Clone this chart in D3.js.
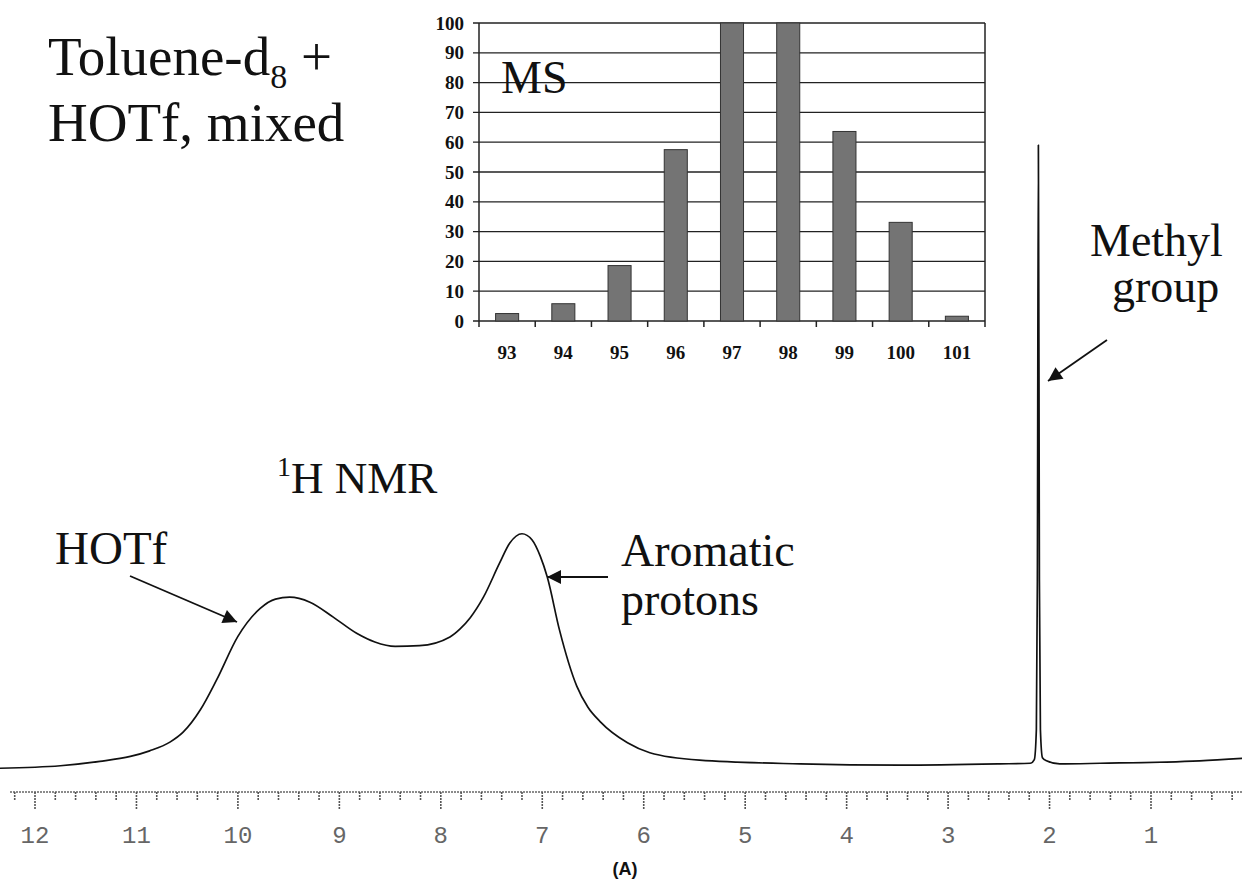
<!DOCTYPE html>
<html>
<head>
<meta charset="utf-8">
<script src="https://cdn.jsdelivr.net/npm/d3@7"></script>
<style>
  body { margin: 0; background: #fff; }
  svg { display: block; }
</style>
</head>
<body>
<script>
// ---- data ----
// MS inset: mass numbers and relative abundance (%)
var msMass = ["93", "94", "95", "96", "97", "98", "99", "100", "101"];
var msAbund = [2.5, 5.8, 18.6, 57.5, 100, 100, 63.6, 33.1, 1.6];
var msTicks = [0, 10, 20, 30, 40, 50, 60, 70, 80, 90, 100];

// 1H NMR trace: chemical shift (ppm) and intensity (arbitrary, methyl top = 100)
var nmrPpm = [12.35, 11.75, 11.36, 11.06, 10.87, 10.67, 10.54, 10.37, 10.21, 10.0,
              9.78, 9.63, 9.49, 9.29, 9.06, 8.83, 8.65, 8.45, 8.21, 7.91,
              7.81, 7.71, 7.58, 7.42, 7.32, 7.20, 7.10, 7.02, 6.95, 6.83,
              6.66, 6.55, 6.43, 6.16, 5.94, 5.45, 4.46, 3.47, 2.49, 2.19,
              2.15, 2.13, 2.12, 2.11, 2.10, 2.09, 2.07, 2.03, 1.90, 1.50,
              0.52, 0.10];
var nmrInt = [-0.2, 0.2, 0.9, 1.7, 2.6, 4.0, 5.6, 9.2, 14.0, 21.0,
              25.5, 27.0, 27.3, 26.5, 24.1, 21.5, 20.1, 19.4, 19.5, 20.9,
              22.2, 24.0, 27.3, 32.8, 36.0, 37.5, 36.5, 33.9, 30.5, 22.0,
              13.0, 9.6, 7.3, 3.9, 2.3, 1.1, 0.5, 0.3, 0.5, 0.6,
              1.2, 6, 30, 100, 30, 6, 1.5, 1.0, 0.5, 0.6,
              1.0, 1.4];
var ppmMajor = [12, 11, 10, 9, 8, 7, 6, 5, 4, 3, 2, 1];

var W = 1242, H = 882;
var serif = "'Liberation Serif', 'Times New Roman', serif";

var svg = d3.select("body").append("svg")
    .attr("width", W)
    .attr("height", H);

svg.append("defs").append("marker")
    .attr("id", "head")
    .attr("viewBox", "0 0 10 10")
    .attr("refX", 10).attr("refY", 5)
    .attr("markerUnits", "userSpaceOnUse")
    .attr("markerWidth", 20).attr("markerHeight", 14)
    .attr("orient", "auto")
  .append("path")
    .attr("d", "M0,0 L10,5 L0,10 Z")
    .attr("fill", "#111");

// ---- NMR spectrum ----
var x = d3.scaleLinear().domain([12, 1]).range([35, 1151]);
var y = d3.scaleLinear().domain([0, 100]).range([767, 145]);

var nmr = nmrPpm.map(function(p, i) { return [p, nmrInt[i]]; });

svg.append("path")
    .datum(nmr)
    .attr("fill", "none")
    .attr("stroke", "#111")
    .attr("stroke-width", 1.7)
    .attr("stroke-linejoin", "round")
    .attr("d", d3.line()
        .x(function(d) { return x(d[0]); })
        .y(function(d) { return y(d[1]); })
        .curve(d3.curveMonotoneX));

// ppm ruler at the bottom
var ruler = svg.append("g").attr("transform", "translate(0,792)");
ruler.append("line")
    .attr("x1", 10).attr("x2", W)
    .attr("stroke", "#666").attr("stroke-width", 1.5)
    .attr("stroke-dasharray", "2,1");

var minor = d3.range(0, 61).map(function(i) { return 12.2 - i * 0.2; })
    .filter(function(p) { return x(p) >= 10 && x(p) <= W; });
ruler.selectAll(".minor").data(minor).enter().append("line")
    .attr("class", "minor")
    .attr("x1", function(d) { return x(d); })
    .attr("x2", function(d) { return x(d); })
    .attr("y1", 0)
    .attr("y2", function(d) { return Math.abs(d - Math.round(d)) < 0.01 ? 18 : 9; })
    .attr("stroke", "#555").attr("stroke-width", 1.6)
    .attr("stroke-dasharray", "2,1");

ruler.selectAll(".lab").data(ppmMajor).enter().append("text")
    .attr("x", function(d) { return x(d); })
    .attr("y", 51)
    .attr("text-anchor", "middle")
    .attr("font-family", "'Liberation Mono', 'Courier New', monospace")
    .attr("font-size", 24)
    .attr("fill", "#666")
    .text(function(d) { return d; });

svg.append("text")
    .attr("x", 625).attr("y", 875)
    .attr("text-anchor", "middle")
    .attr("font-family", "'Liberation Sans', Arial, sans-serif")
    .attr("font-weight", "bold")
    .attr("font-size", 18)
    .attr("fill", "#111")
    .text("(A)");

// ---- MS inset ----
var xb = d3.scaleBand().domain(msMass).range([479, 985])
    .paddingInner(0.59).paddingOuter(0.295);
var yb = d3.scaleLinear().domain([0, 100]).range([321, 23]);

var inset = svg.append("g");

inset.selectAll(".grid").data(msTicks).enter().append("line")
    .attr("x1", 473).attr("x2", 985)
    .attr("y1", function(d) { return yb(d); })
    .attr("y2", function(d) { return yb(d); })
    .attr("stroke", "#222").attr("stroke-width", 1.3);

inset.selectAll(".ylab").data(msTicks).enter().append("text")
    .attr("x", 464)
    .attr("y", function(d) { return yb(d) + 6.5; })
    .attr("text-anchor", "end")
    .attr("font-family", serif)
    .attr("font-weight", "bold")
    .attr("font-size", 19)
    .attr("fill", "#111")
    .text(function(d) { return d; });

inset.selectAll(".bar").data(msAbund).enter().append("rect")
    .attr("x", function(d, i) { return xb(msMass[i]); })
    .attr("width", xb.bandwidth())
    .attr("y", function(d) { return yb(d); })
    .attr("height", function(d) { return yb(0) - yb(d); })
    .attr("fill", "#747474")
    .attr("stroke", "#333").attr("stroke-width", 1);

// axis lines and tick marks between the bars
inset.append("line")
    .attr("x1", 479).attr("x2", 479).attr("y1", yb(100)).attr("y2", yb(0) + 6)
    .attr("stroke", "#222").attr("stroke-width", 1.5);
inset.append("line")
    .attr("x1", 985).attr("x2", 985).attr("y1", yb(100)).attr("y2", yb(0) + 6)
    .attr("stroke", "#222").attr("stroke-width", 1.5);
inset.selectAll(".xtick").data(msMass.slice(1)).enter().append("line")
    .attr("x1", function(d) { return xb(d) - xb.step() * xb.paddingInner() / 2; })
    .attr("x2", function(d) { return xb(d) - xb.step() * xb.paddingInner() / 2; })
    .attr("y1", yb(0)).attr("y2", yb(0) + 6)
    .attr("stroke", "#222").attr("stroke-width", 1.5);

inset.selectAll(".xlab").data(msMass).enter().append("text")
    .attr("x", function(d) { return xb(d) + xb.bandwidth() / 2; })
    .attr("y", 359)
    .attr("text-anchor", "middle")
    .attr("font-family", serif)
    .attr("font-weight", "bold")
    .attr("font-size", 19)
    .attr("fill", "#111")
    .text(function(d) { return d; });

inset.append("text")
    .attr("x", 501).attr("y", 93)
    .attr("font-family", serif)
    .attr("font-size", 46)
    .attr("fill", "#111")
    .text("MS");

// ---- labels ----
function label(txt, lx, ly, size) {
  return svg.append("text")
      .attr("x", lx).attr("y", ly)
      .attr("font-family", serif)
      .attr("font-size", size)
      .attr("fill", "#111")
      .text(txt);
}

var t1 = label("Toluene-d", 48, 75, 55);
t1.append("tspan").attr("font-size", 34).attr("dy", 13).text("8");
t1.append("tspan").attr("dy", -13).text(" +");
label("HOTf, mixed", 48, 141, 55);

var nmrLab = svg.append("text")
    .attr("x", 277).attr("y", 493)
    .attr("font-family", serif).attr("font-size", 45).attr("fill", "#111");
nmrLab.append("tspan").attr("font-size", 28).attr("dy", -17).text("1");
nmrLab.append("tspan").attr("dy", 17).text("H NMR");

label("HOTf", 55, 564, 47);
label("Aromatic", 621, 566, 46);
label("protons", 621, 615, 46);
label("Methyl", 1090, 256, 46);
label("group", 1112, 302, 46);

// arrows
function arrow(x1, y1, x2, y2) {
  svg.append("line")
      .attr("x1", x1).attr("y1", y1).attr("x2", x2).attr("y2", y2)
      .attr("stroke", "#111").attr("stroke-width", 1.8)
      .attr("marker-end", "url(#head)");
}
arrow(130, 576, 237, 622);
arrow(608, 577, 547, 577);
arrow(1107, 340, 1048, 381);
</script>
</body>
</html>
